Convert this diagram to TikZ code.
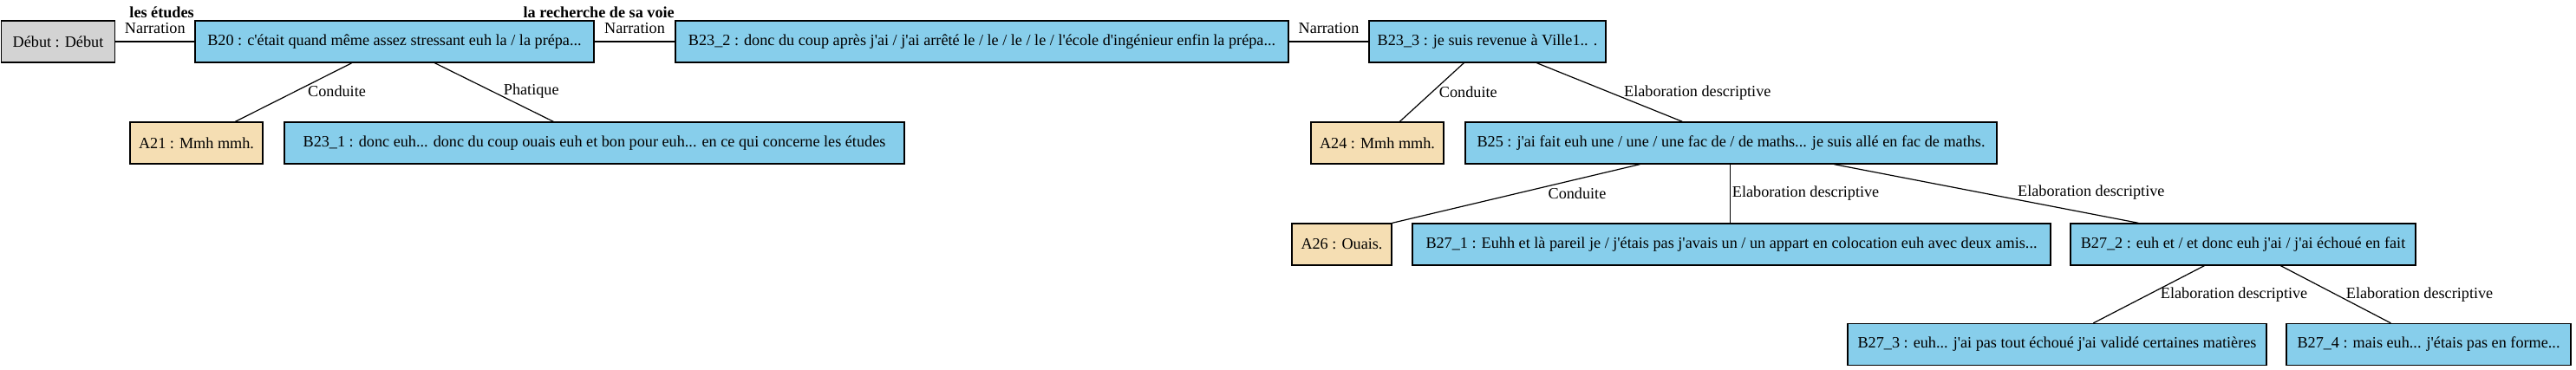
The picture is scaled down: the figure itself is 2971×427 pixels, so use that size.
\documentclass[tikz,border=0pt]{standalone}
\usepackage{fontspec}
\setmainfont{Liberation Serif}[Ligatures=TeXOff]
\definecolor{skyb}{HTML}{87CEEB}
\definecolor{whe}{HTML}{F5DEB3}
\definecolor{lgr}{HTML}{D3D3D3}
\begin{document}
\begin{tikzpicture}[x=1pt,y=-1pt,
  box/.style={draw=black, line width=1.3pt, minimum height=48pt, inner sep=0pt, font=\fontsize{18.2}{22}\selectfont},
  bbox/.style={box, fill=skyb},
  abox/.style={box, fill=whe},
  gbox/.style={box, fill=lgr},
  rel/.style={draw=black, line width=1.2pt},
  lab/.style={font=\fontsize{18.2}{22}\selectfont, inner sep=0pt, anchor=west},
  hlab/.style={font=\fontsize{18.2}{22}\selectfont, inner sep=0pt, midway, yshift=15pt},
  topic/.style={font=\fontsize{18.2}{22}\selectfont\bfseries, inner sep=0pt, pos=1, anchor=east, yshift=34pt}]
\useasboundingbox (0,0) rectangle (2971,427);
% row 1
\node[gbox, minimum width=131pt] (debut) at (67,48) {Début : Début};
\node[bbox, minimum width=460pt] (b20) at (455,48) {B20 : c'était quand même assez stressant euh la / la prépa...};
\node[bbox, minimum width=707pt] (b232) at (1132.5,48) {B23\_2 : donc du coup après j'ai / j'ai arrêté le / le / le / le / l'école d'ingénieur enfin la prépa...};
\node[bbox, minimum width=273pt] (b233) at (1715.5,48) {B23\_3 : je suis revenue à Ville1.. .};
% row 2
\node[abox, minimum width=153pt] (a21) at (226.5,165) {A21 : Mmh mmh.};
\node[bbox, minimum width=715pt] (b231) at (685.5,165) {B23\_1 : donc euh... donc du coup ouais euh et bon pour euh... en ce qui concerne les études};
\node[abox, minimum width=153pt] (a24) at (1588.5,165) {A24 : Mmh mmh.};
\node[bbox, minimum width=613pt] (b25) at (1996.5,165) {B25 : j'ai fait euh une / une / une fac de / de maths... je suis allé en fac de maths.};
% row 3
\node[abox, minimum width=115pt] (a26) at (1547.5,282) {A26 : Ouais.};
\node[bbox, minimum width=736pt] (b271) at (1997,282) {B27\_1 : Euhh et là pareil je / j'étais pas j'avais un / un appart en colocation euh avec deux amis...};
\node[bbox, minimum width=398pt] (b272) at (2587,282) {B27\_2 : euh et / et donc euh j'ai / j'ai échoué en fait};
% row 4
\node[bbox, minimum width=483pt] (b273) at (2372.5,397.5) {B27\_3 : euh... j'ai pas tout échoué j'ai validé certaines matières};
\node[bbox, minimum width=328pt] (b274) at (2801,397.5) {B27\_4 : mais euh... j'étais pas en forme...};
% horizontal relations
\draw[rel] (debut.east) -- (b20.west) node[hlab] {Narration} node[topic] {les études};
\draw[rel] (b20.east) -- (b232.west) node[hlab] {Narration} node[topic] {la recherche de sa voie};
\draw[rel] (b232.east) -- (b233.west) node[hlab] {Narration};
% slanted relations
\draw[rel] ([xshift=181.5pt]b20.south west) -- ([xshift=122pt]a21.north west) node[lab, pos=0.478, xshift=13pt] {Conduite};
\draw[rel] ([xshift=277pt]b20.south west) -- ([xshift=311pt]b231.north west) node[lab, pos=0.478, xshift=13.5pt] {Phatique};
\draw[rel] ([xshift=110pt]b233.south west) -- ([xshift=103pt]a24.north west) node[lab, pos=0.493, xshift=7.5pt] {Conduite};
\draw[rel] ([xshift=194pt]b233.south west) -- ([xshift=251pt]b25.north west) node[lab, pos=0.507, xshift=15pt] {Elaboration descriptive};
\draw[rel] ([xshift=202pt]b25.south west) -- (a26.north east) node[lab, pos=0.493, xshift=34.5pt] {Conduite};
\draw[rel] ([xshift=306pt]b25.south west) -- ([xshift=367pt]b271.north west) node[lab, pos=0.493, xshift=2pt] {Elaboration descriptive};
\draw[rel] ([xshift=426pt]b25.south west) -- ([xshift=79pt]b272.north west) node[lab, pos=0.485, xshift=41pt] {Elaboration descriptive};
\draw[rel] ([xshift=155pt]b272.south west) -- ([xshift=284pt]b273.north west) node[lab, pos=0.5, xshift=13pt] {Elaboration descriptive};
\draw[rel] ([xshift=243pt]b272.south west) -- ([xshift=121pt]b274.north west) node[lab, pos=0.5, xshift=11.5pt] {Elaboration descriptive};
\end{tikzpicture}
\end{document}
